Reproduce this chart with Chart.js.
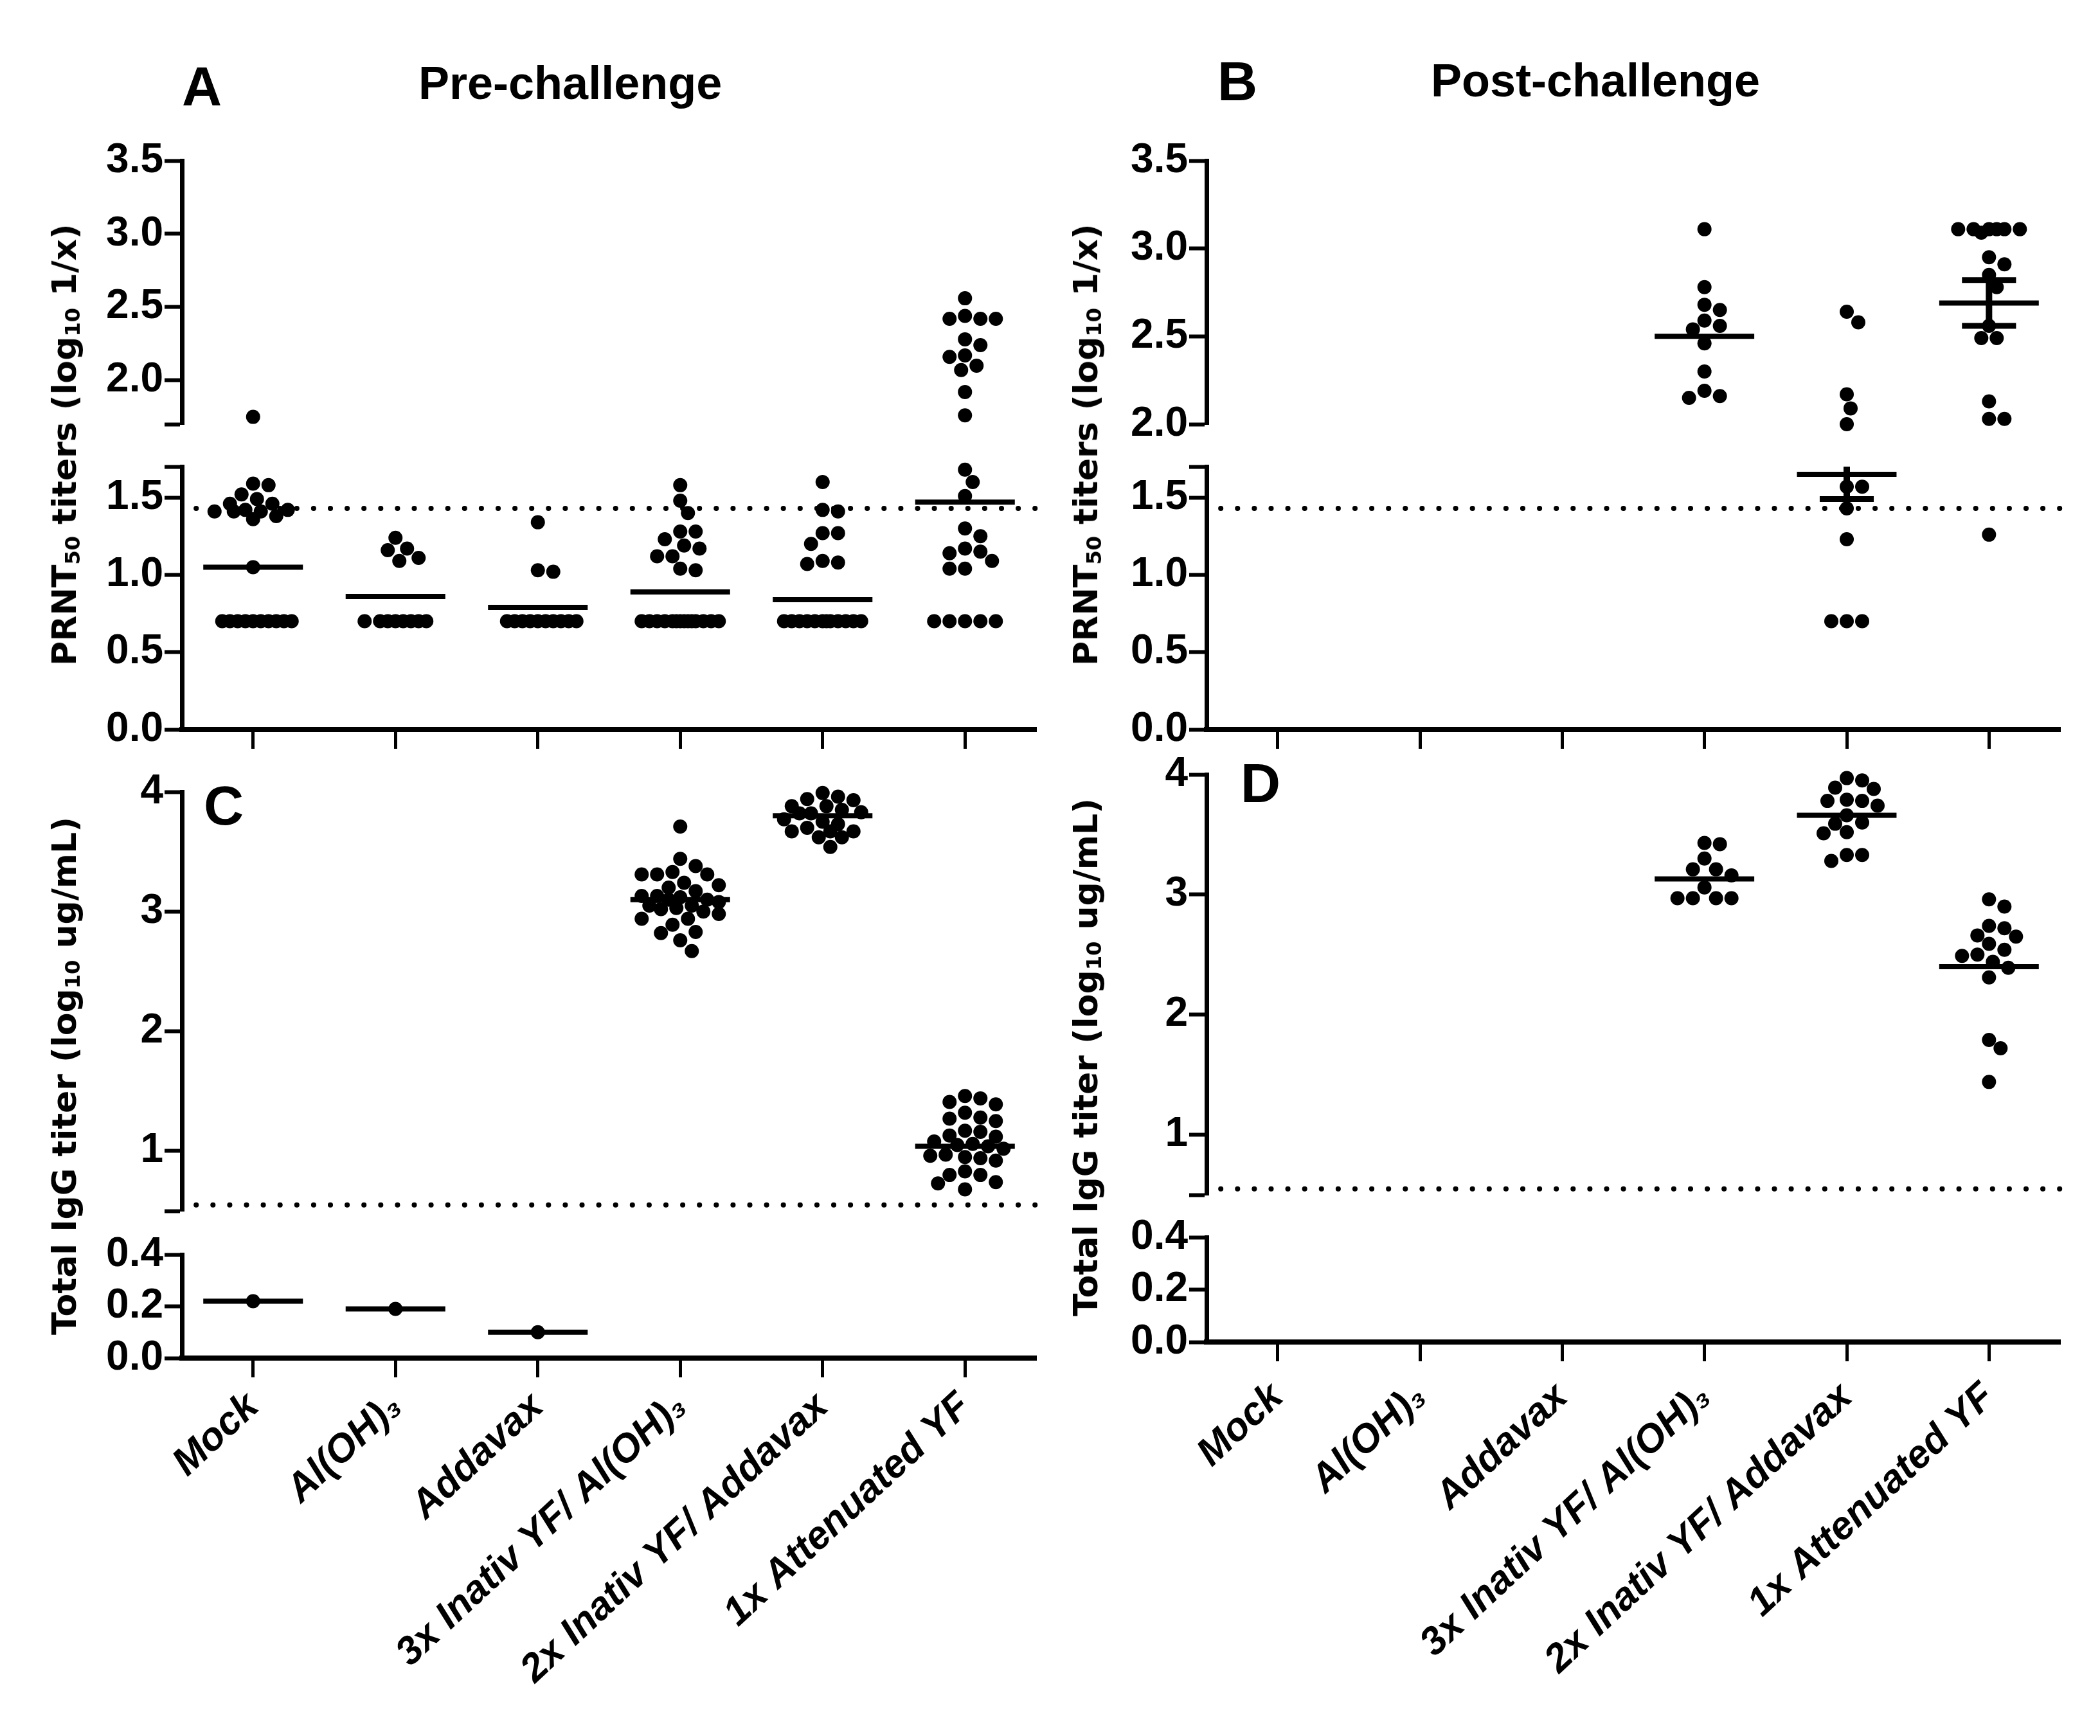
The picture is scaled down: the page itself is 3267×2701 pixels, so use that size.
<!DOCTYPE html>
<html>
<head>
<meta charset="utf-8">
<script src="https://cdn.jsdelivr.net/npm/chart.js@4.4.1/dist/chart.umd.min.js"></script>
<style>
  body { margin: 0; background: #fff; width: 3267px; height: 2701px; position: relative; overflow: hidden; }
  .panel { position: absolute; }
  .txt { position: absolute; font-family: "Liberation Sans", Arial, sans-serif; font-weight: bold; line-height: 1; white-space: nowrap; color: #000; }
  .ytitle { position: absolute; font-family: "DejaVu Sans", Verdana, sans-serif; font-weight: bold; font-size: 52px; line-height: 1;
            white-space: nowrap; color: #000; transform: translate(-50%, -50%) rotate(-90deg); }
  .ytitle sub { font-size: 0.62em; vertical-align: -0.2em; line-height: 0; }
</style>
</head>
<body>
<div class="panel" style="left:0;top:0;width:1634px;height:1180px"><canvas id="cA"></canvas></div>
<div class="panel" style="left:1634px;top:0;width:1633px;height:1180px"><canvas id="cB"></canvas></div>
<div class="panel" style="left:0;top:1150px;width:1634px;height:1551px"><canvas id="cC"></canvas></div>
<div class="panel" style="left:1634px;top:1150px;width:1633px;height:1551px"><canvas id="cD"></canvas></div>

<div class="txt" style="left:283px;top:91px;font-size:86px">A</div>
<div class="txt" style="left:651px;top:93px;font-size:72px">Pre-challenge</div>
<div class="txt" style="left:1894px;top:83px;font-size:86px">B</div>
<div class="txt" style="left:2226px;top:89px;font-size:72px">Post-challenge</div>
<div class="txt" style="left:317px;top:1210px;font-size:86px">C</div>
<div class="txt" style="left:1930px;top:1175px;font-size:86px">D</div>

<div class="ytitle" style="left:100px;top:692px">PRNT<sub>50</sub> titers (log<sub>10</sub> 1/x)</div>
<div class="ytitle" style="left:1689px;top:692px">PRNT<sub>50</sub> titers (log<sub>10</sub> 1/x)</div>
<div class="ytitle" style="left:100px;top:1674px">Total IgG titer (log<sub>10</sub> ug/mL)</div>
<div class="ytitle" style="left:1689px;top:1645px">Total IgG titer (log<sub>10</sub> ug/mL)</div>

<script>
const groups = ['Mock', 'Al(OH)₃', 'Addavax', '3x Inativ YF/ Al(OH)₃', '2x Inativ YF/ Addavax', '1x Attenuated YF'];

// A - PRNT50 pre-challenge (log10 1/x), one list per group
const prePrnt = [
  [1.75, 1.59, 1.58, 1.52, 1.49, 1.46, 1.46, 1.42, 1.42, 1.41, 1.41, 1.41, 1.38, 1.36, 1.05,
   0.70, 0.70, 0.70, 0.70, 0.70, 0.70, 0.70, 0.70, 0.70, 0.70],
  [1.24, 1.17, 1.16, 1.11, 1.09, 0.70, 0.70, 0.70, 0.70, 0.70, 0.70, 0.70, 0.70],
  [1.34, 1.03, 1.02, 0.70, 0.70, 0.70, 0.70, 0.70, 0.70, 0.70, 0.70, 0.70, 0.70],
  [1.58, 1.48, 1.40, 1.28, 1.28, 1.23, 1.19, 1.17, 1.12, 1.12, 1.04, 1.03,
   0.70, 0.70, 0.70, 0.70, 0.70, 0.70, 0.70, 0.70, 0.70, 0.70, 0.70, 0.70, 0.70, 0.70],
  [1.60, 1.42, 1.41, 1.27, 1.27, 1.20, 1.09, 1.08, 1.07,
   0.70, 0.70, 0.70, 0.70, 0.70, 0.70, 0.70, 0.70, 0.70, 0.70, 0.70, 0.70],
  [2.56, 2.44, 2.42, 2.42, 2.42, 2.28, 2.24, 2.17, 2.16, 2.10, 2.07, 1.92, 1.76, 1.68, 1.60, 1.51,
   1.30, 1.25, 1.17, 1.15, 1.14, 1.09, 1.04, 1.04, 0.70, 0.70, 0.70, 0.70, 0.70]
];
const prePrntMean = [1.05, 0.86, 0.79, 0.89, 0.84, 1.47];

// B - PRNT50 post-challenge
const postPrnt = [
  [], [], [],
  [3.11, 2.78, 2.68, 2.65, 2.59, 2.56, 2.54, 2.46, 2.30, 2.19, 2.16, 2.15],
  [2.64, 2.58, 2.17, 2.09, 2.00, 1.57, 1.57, 1.43, 1.23, 0.70, 0.70, 0.70],
  [3.11, 3.11, 3.11, 3.11, 3.11, 3.11, 3.09, 2.95, 2.91, 2.85, 2.78, 2.56, 2.49, 2.49, 2.13, 2.03, 2.03, 1.26]
];
const postPrntMean = [null, null, null, 2.50, 1.65, 2.69];
const postPrntSem = [null, null, null, null, 0.16, 0.13];

// C - total IgG pre-challenge (log10 ug/mL)
const preIgg = [
  [0.22], [0.19], [0.10],
  [3.71, 3.44, 3.38, 3.33, 3.31, 3.31, 3.31, 3.24, 3.22, 3.20, 3.17, 3.13, 3.13, 3.12, 3.10,
   3.10, 3.08, 3.05, 3.05, 3.03, 3.02, 3.00, 2.98, 2.94, 2.94, 2.89, 2.83, 2.82, 2.76, 2.67],
  [3.99, 3.96, 3.94, 3.93, 3.88, 3.88, 3.85, 3.83, 3.82, 3.82, 3.77, 3.75, 3.73, 3.70, 3.67,
   3.67, 3.67, 3.62, 3.62, 3.54],
  [1.46, 1.44, 1.41, 1.39, 1.32, 1.28, 1.27, 1.25, 1.17, 1.16, 1.13, 1.12, 1.08, 1.06, 1.05,
   1.04, 1.02, 0.97, 0.96, 0.95, 0.94, 0.92, 0.83, 0.80, 0.80, 0.74, 0.73, 0.68]
];
const preIggMean = [0.22, 0.19, 0.10, 3.10, 3.80, 1.04];

// D - total IgG post-challenge
const postIgg = [
  [], [], [],
  [3.43, 3.42, 3.30, 3.21, 3.21, 3.16, 3.06, 2.97, 2.97, 2.97, 2.97],
  [3.97, 3.95, 3.89, 3.88, 3.79, 3.78, 3.78, 3.74, 3.66, 3.60, 3.59, 3.52, 3.51, 3.33, 3.33, 3.28],
  [2.96, 2.90, 2.74, 2.72, 2.66, 2.65, 2.59, 2.54, 2.50, 2.49, 2.44, 2.39, 2.31, 1.79, 1.72, 1.44]
];
const postIggMean = [null, null, null, 3.13, 3.66, 2.40];

// detection limits (dotted lines)
const prntLod = 1.43;
const iggLod = 0.55;

// tick labels of each axis piece
const prntTicksLow = [0, 0.5, 1.0, 1.5];
const prntTicksHigh = [2.0, 2.5, 3.0, 3.5];
const iggTicksHigh = [1, 2, 3, 4];
const iggTicksLow = [0, 0.2, 0.4];

const fmt1 = v => v.toFixed(1);
const fmt0 = v => String(Math.round(v));
const FAMILY = "'Liberation Sans', Arial, sans-serif";
const tickFont = { family: FAMILY, size: 64, weight: 'bold' };
const labelFont = { family: FAMILY, size: 61, weight: 'bold', style: 'italic' };

const panels = [
  { id: 'cA', values: prePrnt, means: prePrntMean, sems: null, lod: prntLod,
    top: { min: 1.7, max: 3.5, ticks: prntTicksHigh, size: 410, fmt: fmt1 }, gap: 66,
    bot: { min: 0, max: 1.7, ticks: prntTicksLow, size: 409, fmt: fmt1 },
    pad: { left: 0, top: 250, right: 22, bottom: 0 }, yWidth: 283, xHeight: 45, labels: false },
  { id: 'cB', values: postPrnt, means: postPrntMean, sems: postPrntSem, lod: prntLod,
    top: { min: 2.0, max: 3.5, ticks: prntTicksHigh, size: 410, fmt: fmt1 }, gap: 66,
    bot: { min: 0, max: 1.7, ticks: prntTicksLow, size: 409, fmt: fmt1 },
    pad: { left: 0, top: 250, right: 62, bottom: 0 }, yWidth: 243, xHeight: 45, labels: false },
  { id: 'cC', values: preIgg, means: preIggMean, sems: null, lod: iggLod,
    top: { min: 0.5, max: 4, ticks: iggTicksHigh, size: 652, fmt: fmt0 }, gap: 68,
    bot: { min: 0, max: 0.4, ticks: iggTicksLow, size: 161, fmt: fmt1 },
    pad: { left: 0, top: 82, right: 22, bottom: 0 }, yWidth: 283, xHeight: 588, labels: true, labelPad: 10 },
  { id: 'cD', values: postIgg, means: postIggMean, sems: null, lod: iggLod,
    top: { min: 0.5, max: 4, ticks: iggTicksHigh, size: 654, fmt: fmt0 }, gap: 66,
    bot: { min: 0, max: 0.4, ticks: iggTicksLow, size: 163, fmt: fmt1 },
    pad: { left: 0, top: 55, right: 62, bottom: 0 }, yWidth: 243, xHeight: 613, labels: true, labelPad: 20 }
];

// spread dots of one group sideways so they do not sit on top of each other
function swarm(values, center, pxPerUnit, catPx) {
  const dot = 22, step = 6, half = 62;
  const cands = [0];
  for (let k = 1; k * step <= half; k++) cands.push(k * step, -k * step);
  const placed = [];
  values.slice().sort((a, b) => b - a).forEach(v => {
    const py = v * pxPerUnit;
    let best = 0, bestGap = -1;
    for (const cx of cands) {
      let gap = Infinity;
      for (const p of placed) gap = Math.min(gap, Math.hypot(p.cx - cx, p.py - py));
      if (gap >= dot) { best = cx; break; }
      if (gap > bestGap) { bestGap = gap; best = cx; }
    }
    placed.push({ cx: best, py, v });
  });
  return placed.map(p => ({ x: center + p.cx / catPx, y: p.v }));
}

function segment(x1, y1, x2, y2, axis, width, extra) {
  return Object.assign({
    type: 'scatter', showLine: true, yAxisID: axis,
    data: [{ x: x1, y: y1 }, { x: x2, y: y2 }],
    borderColor: '#000', borderWidth: width, borderCapStyle: 'butt',
    pointRadius: 0, pointHoverRadius: 0, order: 0, clip: false
  }, extra || {});
}

function yAxis(seg, weight, spec) {
  return {
    type: 'linear', position: 'left', stack: 'y', stackWeight: seg.size, weight,
    min: seg.min, max: seg.max,
    border: { display: true, color: '#000', width: 7 },
    grid: { display: true, drawOnChartArea: false, drawTicks: true, tickLength: 27, tickWidth: 6, color: '#000', tickColor: '#000' },
    ticks: {
      color: '#000', font: tickFont, padding: 2, autoSkip: false,
      callback: v => seg.ticks.some(t => Math.abs(t - v) < 1e-9) ? seg.fmt(v) : ''
    },
    afterBuildTicks: s => {
      const vals = seg.ticks.slice();
      if (!vals.some(t => Math.abs(t - seg.min) < 1e-9)) vals.unshift(seg.min);
      if (!vals.some(t => Math.abs(t - seg.max) < 1e-9)) vals.push(seg.max);
      s.ticks = vals.map(value => ({ value }));
    },
    afterFit: s => { s.width = spec.yWidth; s.paddingTop = 0; s.paddingBottom = 0; }
  };
}

function makePanel(spec) {
  const axisFor = v => (v >= spec.top.min ? 'yTop' : 'yBot');
  const canvas = document.getElementById(spec.id);
  const plotW = canvas.parentNode.clientWidth - spec.yWidth - spec.pad.right;
  const catPx = plotW / groups.length;
  const datasets = [];

  // dots, one dataset per axis piece
  ['top', 'bot'].forEach(key => {
    const seg = spec[key];
    const axis = key === 'top' ? 'yTop' : 'yBot';
    const ppu = seg.size / (seg.max - seg.min);
    let pts = [];
    spec.values.forEach((vals, i) => {
      const mine = vals.filter(v => axisFor(v) === axis);
      pts = pts.concat(swarm(mine, i, ppu, catPx));
    });
    datasets.push({
      type: 'scatter', yAxisID: axis, data: pts, order: 1, clip: false,
      backgroundColor: '#000', borderWidth: 0, pointRadius: 11, pointHoverRadius: 11
    });
  });

  // mean lines
  spec.means.forEach((m, i) => {
    if (m === null) return;
    datasets.push(segment(i - 0.35, m, i + 0.35, m, axisFor(m), 8));
  });

  // SEM bars
  if (spec.sems) {
    spec.sems.forEach((s, i) => {
      const m = spec.means[i];
      if (s === null || m === null) return;
      const axis = axisFor(m);
      const seg = axis === 'yTop' ? spec.top : spec.bot;
      const lo = m - s, hi = m + s;
      const loC = Math.max(lo, seg.min), hiC = Math.min(hi, seg.max);
      datasets.push(segment(i, loC, i, hiC, axis, 10));
      if (lo >= seg.min) datasets.push(segment(i - 0.19, lo, i + 0.19, lo, axis, 9));
      if (hi <= seg.max) datasets.push(segment(i - 0.19, hi, i + 0.19, hi, axis, 9));
    });
  }

  // detection limit
  datasets.push(segment(-0.4, spec.lod, 5.5, spec.lod, axisFor(spec.lod), 8,
    { borderDash: [0.1, 26], borderCapStyle: 'round' }));

  new Chart(canvas, {
    type: 'scatter',
    data: { datasets },
    options: {
      responsive: true, maintainAspectRatio: false, animation: false,
      layout: { padding: spec.pad, autoPadding: false },
      plugins: { legend: { display: false }, tooltip: { enabled: false } },
      scales: {
        x: {
          type: 'linear', position: 'bottom', min: -0.5, max: 5.5,
          border: { display: true, color: '#000', width: 8 },
          grid: { display: true, drawOnChartArea: false, drawTicks: true, tickLength: 30, tickWidth: 5, color: '#000', tickColor: '#000' },
          ticks: {
            autoSkip: false, minRotation: 43, maxRotation: 43, padding: spec.labelPad || 0,
            color: '#000', font: labelFont,
            callback: v => (spec.labels ? groups[v] : '')
          },
          afterBuildTicks: s => { s.ticks = groups.map((_, i) => ({ value: i })); },
          afterFit: s => { s.height = spec.xHeight; s.paddingLeft = 0; s.paddingRight = 0; }
        },
        yTop: yAxis(spec.top, 3, spec),
        yGap: {
          type: 'linear', position: 'left', stack: 'y', stackWeight: spec.gap, weight: 2,
          min: 0, max: 1, display: true,
          border: { display: false }, grid: { display: false }, ticks: { display: false },
          afterFit: s => { s.width = spec.yWidth; s.paddingTop = 0; s.paddingBottom = 0; }
        },
        yBot: yAxis(spec.bot, 1, spec)
      }
    }
  });
}

panels.forEach(makePanel);
</script>
</body>
</html>
